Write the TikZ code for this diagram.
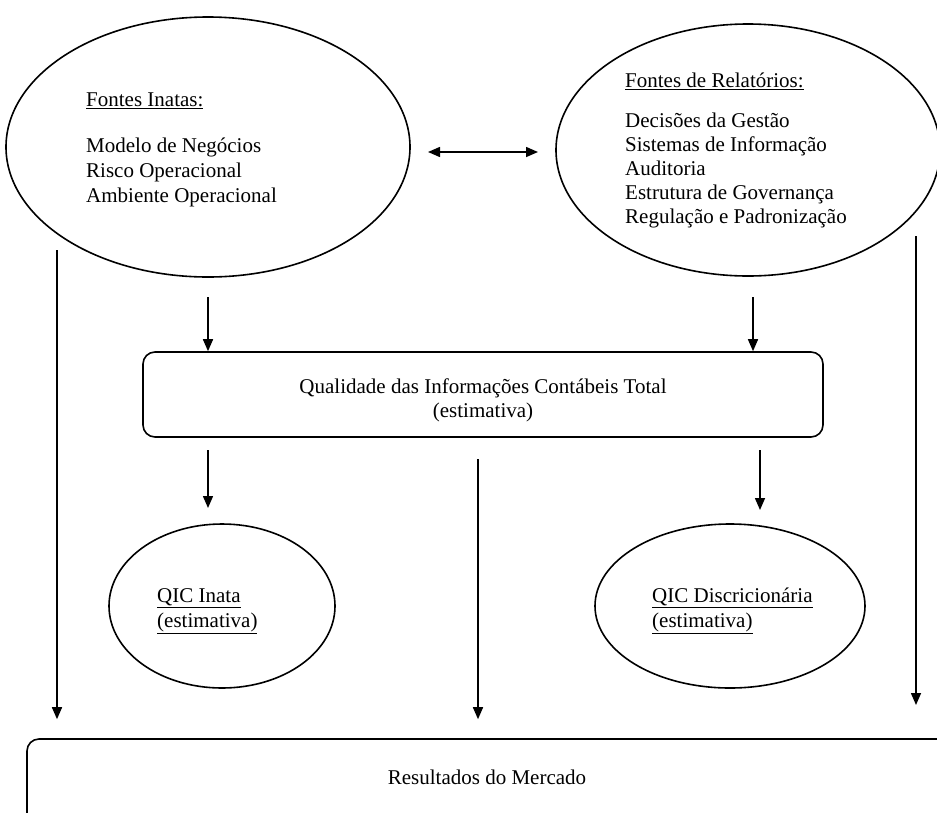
\documentclass[tikz,border=0pt]{standalone}
\usepackage{fontspec}
\setmainfont{Liberation Serif}
\usetikzlibrary{shapes.geometric,arrows.meta}
\begin{document}
\begin{tikzpicture}[x=1pt,y=-1pt,
  every node/.style={font=\fontsize{21}{25}\selectfont},
  oval/.style={draw,ellipse,line width=1.6pt,inner sep=0pt},
  rbox/.style={draw,rectangle,rounded corners=12pt,line width=1.6pt,inner sep=0pt},
  arr/.style={line width=1.5pt,-{Triangle[length=12pt,width=10pt]}},
  darr/.style={line width=1.5pt,{Triangle[length=12pt,width=10pt]}-{Triangle[length=12pt,width=10pt]}},
  txt/.style={anchor=base west,inner sep=0pt,align=left},
  ctxt/.style={anchor=base,inner sep=0pt,align=center}
]
\useasboundingbox (0,0) rectangle (937,812);
% big ellipses
\node[oval,minimum width=404pt,minimum height=260pt] (inn) at (208,147) {};
\node[oval,minimum width=384pt,minimum height=252pt] (rel) at (748,150) {};
% (base anchor of a multi-line node = baseline of its last line)
\node[txt] (inntxt) at (86,202) {\underline{Fontes Inatas:}\\[21pt]Modelo de Negócios\\Risco Operacional\\Ambiente Operacional};
\node[txt,font=\fontsize{21}{24}\selectfont] (reltxt) at (625,223) {\underline{Fontes de Relatórios:}\\[16pt]Decisões da Gestão\\Sistemas de Informação\\Auditoria\\Estrutura de Governança\\Regulação e Padronização};
% middle box
\node[rbox,minimum width=680pt,minimum height=85pt] (tot) at (483,394.5) {};
\node[ctxt,font=\fontsize{21}{24}\selectfont] (tottxt) at (483,417) {Qualidade das Informações Contábeis Total\\(estimativa)};
% small ellipses
\node[oval,minimum width=226pt,minimum height=164pt] (qi) at (222,606) {};
\node[oval,minimum width=270pt,minimum height=164pt] (qd) at (730,606) {};
\node[txt] (qitxt) at (157,627) {\underline{QIC Inata}\\\underline{(estimativa)}};
\node[txt] (qdtxt) at (652,627) {\underline{QIC Discricionária}\\\underline{(estimativa)}};
% bottom box
\node[rbox,minimum width=933pt,minimum height=100pt] (mer) at (493.5,789) {};
\node[ctxt] (mertxt) at (487,784) {Resultados do Mercado};
% connector start points
\coordinate (dl) at (428,152);
\coordinate (dr) at (538,152);
\coordinate (s1) at (208,297);
\coordinate (s2) at (753,297);
\coordinate (s3) at (208,450);
\coordinate (e3) at (208,508);
\coordinate (s4) at (760,450);
\coordinate (e4) at (760,510);
\coordinate (s5) at (478,459);
\coordinate (s6) at (57,250);
\coordinate (s7) at (916,236);
\coordinate (e7) at (916,705);
% connectors
\draw[darr] (dl) -- (dr);
\draw[arr] (s1) -- (s1 |- tot.north);
\draw[arr] (s2) -- (s2 |- tot.north);
\draw[arr] (s3) -- (e3);
\draw[arr] (s4) -- (e4);
\draw[arr] (s5) -- ([yshift=19pt]s5 |- mer.north);
\draw[arr] (s6) -- ([yshift=19pt]s6 |- mer.north);
\draw[arr] (s7) -- (e7);
\end{tikzpicture}
\end{document}
